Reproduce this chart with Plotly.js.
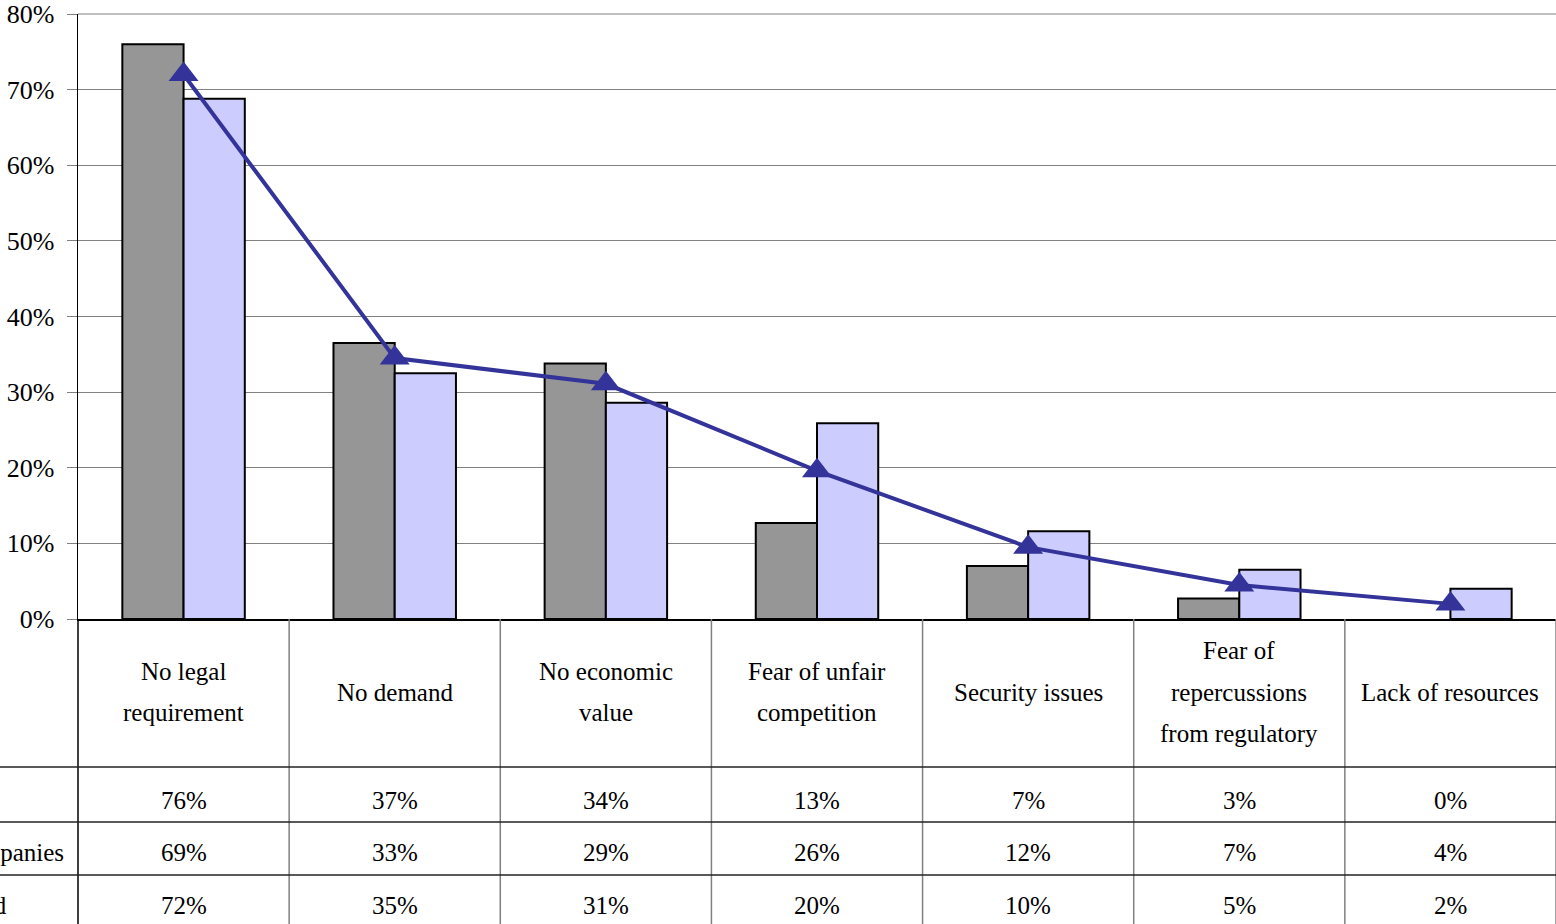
<!DOCTYPE html>
<html>
<head>
<meta charset="utf-8">
<script src="https://cdn.plot.ly/plotly-3.0.1.min.js"></script>
<style>html,body{margin:0;padding:0;background:#fff;}#chart{width:1556px;height:924px;}</style>
</head>
<body>
<div id="chart"></div>
<script>
// ---- data ----
const categories = [
  "No legal<br>requirement",
  "No demand",
  "No economic<br>value",
  "Fear of unfair<br>competition",
  "Security issues",
  "Fear of<br>repercussions<br>from regulatory",
  "Lack of resources"
];
const seriesNames = ["Banks", "Other companies", "Combined"];
const series1 = [76.0, 36.5, 33.8, 12.7, 7.0, 2.7, 0.0];
const series2 = [68.8, 32.5, 28.6, 25.9, 11.6, 6.5, 4.0];
const series3 = [72.0, 34.5, 31.1, 19.6, 9.5, 4.5, 2.0];
const yTicks = [0, 10, 20, 30, 40, 50, 60, 70, 80];

// ---- geometry helpers (pixels -> paper) ----
const W = 1556, H = 924, L = 78, T = 14, B = 305;
const plotW = W - L, plotH = H - T - B;
const py = p => (H - B - p) / plotH;
const px = p => (p - L) / plotW;

const FONT = "Liberation Serif";
const catKeys = categories.map((c, i) => "c" + i);

const traces = [
  {type: "bar", name: seriesNames[0], x: catKeys, y: series1,
   marker: {color: "#969696", line: {color: "#000", width: series1.map(v => v > 0 ? 2 : 0)}}},
  {type: "bar", name: seriesNames[1], x: catKeys, y: series2,
   marker: {color: "#CCCCFF", line: {color: "#000", width: series2.map(v => v > 0 ? 2 : 0)}}},
  {type: "scatter", mode: "lines+markers", name: seriesNames[2], x: catKeys, y: series3,
   line: {color: "#333399", width: 4},
   marker: {symbol: "triangle-up", size: 26, color: "#333399"}, cliponaxis: false}
];

const shapes = [];
const annotations = [];
const n = categories.length;
const tableBottom = py(H + 5);
// top gridline at the axis maximum
shapes.push({type: "line", xref: "paper", yref: "paper", x0: 0, x1: 1, y0: 1, y1: 1,
  line: {color: "#808080", width: 1}, layer: "below"});
// vertical table lines
for (let i = 0; i <= n; i++) {
  shapes.push({type: "line", xref: "paper", yref: "paper", x0: i / n, x1: i / n,
    y0: 0, y1: tableBottom, line: {color: i === 0 ? "#000" : "#808080", width: 1.5}});
}
// horizontal table lines
[767, 822, 875].forEach(p => {
  shapes.push({type: "line", xref: "paper", yref: "paper", x0: px(0), x1: 1,
    y0: py(p), y1: py(p), line: {color: "#222", width: 1.5}});
});
// header labels (one annotation per line)
const lineGap = 41.5, headerMid = 692;
categories.forEach((c, i) => {
  const lines = c.split("<br>");
  lines.forEach((ln, k) => {
    const yPix = headerMid + (k - (lines.length - 1) / 2) * lineGap;
    annotations.push({xref: "paper", yref: "paper", x: (i + 0.5) / n, y: py(yPix),
      xanchor: "center", yanchor: "middle", text: ln, showarrow: false,
      font: {family: FONT, size: 25, color: "#000"}});
  });
});
// value rows
const rowsData = [series1, series2, series3];
const rowY = [800, 853, 906];
const rowLabelEnd = [-22, 66, 9];
rowsData.forEach((arr, r) => {
  arr.forEach((v, i) => {
    annotations.push({xref: "paper", yref: "paper", x: (i + 0.5) / n, y: py(rowY[r]),
      xanchor: "center", yanchor: "middle", text: Math.round(v) + "%", showarrow: false,
      font: {family: FONT, size: 25, color: "#000"}});
  });
  annotations.push({xref: "paper", yref: "paper", x: px(rowLabelEnd[r]), y: py(rowY[r]),
    xanchor: "right", yanchor: "middle", text: seriesNames[r], showarrow: false,
    font: {family: FONT, size: 25, color: "#000"}});
});

const layout = {
  width: W, height: H,
  margin: {l: L, r: 0, t: T, b: B, pad: 0},
  paper_bgcolor: "#fff", plot_bgcolor: "#fff",
  showlegend: false,
  barmode: "group", bargap: 0.42, bargroupgap: 0,
  font: {family: FONT, size: 25, color: "#000"},
  xaxis: {type: "category", showticklabels: false, showgrid: false, zeroline: false,
    showline: true, linecolor: "#000", linewidth: 2, ticks: "", fixedrange: true},
  yaxis: {range: [0, 80], tickvals: yTicks, ticktext: yTicks.map(v => v + "%"),
    showgrid: true, gridcolor: "#808080", gridwidth: 1, zeroline: false,
    showline: true, linecolor: "#000", linewidth: 1.5,
    ticks: "outside", ticklen: 10, tickcolor: "#808080", tickwidth: 1,
    ticklabelstandoff: 7,
    tickfont: {family: FONT, size: 26, color: "#000"}},
  shapes: shapes,
  annotations: annotations
};

Plotly.newPlot("chart", traces, layout, {displayModeBar: false, staticPlot: true});
</script>
</body>
</html>
